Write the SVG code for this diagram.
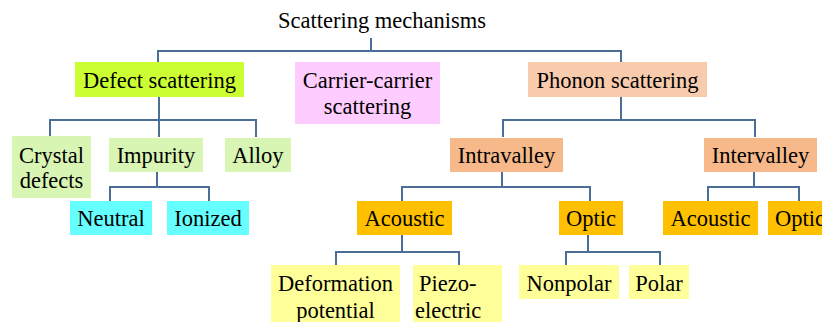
<svg xmlns="http://www.w3.org/2000/svg" width="822" height="322" viewBox="0 0 822 322">
<style>
text{font-family:"Liberation Serif","Times New Roman",serif;font-size:22.5px;fill:#000;text-anchor:middle}
.l{text-anchor:start}
.c{fill:none;stroke:#4a6e96;stroke-width:2}
.lime{fill:#ccff33}.pink{fill:#ffccff}.peach{fill:#f8cbad}.salmon{fill:#f8b98a}
.lg{fill:#d8f5b4}.cyan{fill:#66ffff}.gold{fill:#ffc000}.ly{fill:#ffff99}
</style>
<rect width="822" height="322" fill="#fff"/>
<g id="connectors">
<path class="c" d="M371 38V51M158 62V51H621V62"/>
<path class="c" d="M159 97V120M50 136V120H256V137M159 120V137"/>
<path class="c" d="M157 172V187M110 201V187H209V201"/>
<path class="c" d="M621 97V120M503 137V120H755V137"/>
<path class="c" d="M502 172V187M402 201V187H590V201"/>
<path class="c" d="M754 172V187M708 201V187H799V201"/>
<path class="c" d="M402 235V252M336 265V252H459V265"/>
<path class="c" d="M588 235V252M566 265V252H660V265"/>
</g>
<g id="title"><text x="382" y="28">Scattering mechanisms</text></g>
<g id="defect"><rect class="lime" x="75" y="62" width="169" height="35"/><text x="159.5" y="88">Defect scattering</text></g>
<g id="carrier"><rect class="pink" x="295" y="62" width="145" height="62"/><text x="367.5" y="88">Carrier-carrier</text><text x="367.5" y="114">scattering</text></g>
<g id="phonon"><rect class="peach" x="528" y="62" width="179" height="35"/><text x="617.5" y="88">Phonon scattering</text></g>
<g id="crystal"><rect class="lg" x="12" y="136" width="79" height="62"/><text x="51.5" y="163">Crystal</text><text x="51.5" y="188">defects</text></g>
<g id="impurity"><rect class="lg" x="109" y="138" width="94" height="34"/><text x="156" y="163">Impurity</text></g>
<g id="alloy"><rect class="lg" x="225" y="138" width="66" height="34"/><text x="258" y="163">Alloy</text></g>
<g id="neutral"><rect class="cyan" x="70" y="201" width="82" height="34"/><text x="111" y="226">Neutral</text></g>
<g id="ionized"><rect class="cyan" x="167" y="201" width="82" height="34"/><text x="208" y="226">Ionized</text></g>
<g id="intravalley"><rect class="salmon" x="450" y="138" width="113" height="34"/><text x="506.5" y="163">Intravalley</text></g>
<g id="intervalley"><rect class="salmon" x="704" y="138" width="113" height="34"/><text x="760.5" y="163">Intervalley</text></g>
<g id="acoustic1"><rect class="gold" x="357" y="201" width="95" height="34"/><text x="404.5" y="226">Acoustic</text></g>
<g id="optic1"><rect class="gold" x="559" y="201" width="64" height="34"/><text x="591" y="226">Optic</text></g>
<g id="acoustic2"><rect class="gold" x="663" y="201" width="95" height="34"/><text x="710.5" y="226">Acoustic</text></g>
<g id="optic2"><rect class="gold" x="768" y="201" width="64" height="34"/><text x="800" y="226">Optic</text></g>
<g id="deformation"><rect class="ly" x="271" y="265" width="129" height="60"/><text x="335.5" y="291">Deformation</text><text x="335.5" y="318">potential</text></g>
<g id="piezo"><rect class="ly" x="413" y="265" width="89" height="60"/><text class="l" x="419" y="291">Piezo-</text><text class="l" x="415" y="318">electric</text></g>
<g id="nonpolar"><rect class="ly" x="519" y="265" width="100" height="34"/><text x="569" y="291">Nonpolar</text></g>
<g id="polar"><rect class="ly" x="629" y="265" width="60" height="34"/><text x="659" y="291">Polar</text></g>
</svg>
